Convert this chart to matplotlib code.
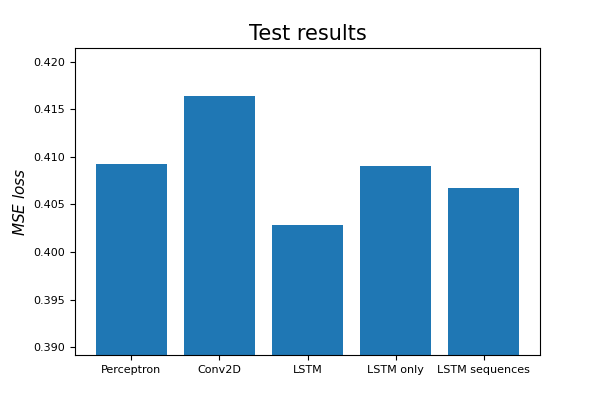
import matplotlib
matplotlib.use("Agg")
import matplotlib.pyplot as plt

models = ["Perceptron", "Conv2D", "LSTM", "LSTM only", "LSTM sequences"]
mse = [0.40926, 0.41642, 0.40284, 0.40905, 0.40674]

fig = plt.figure(figsize=(6, 4), dpi=100)
ax = fig.add_axes([0.125, 0.1125, 0.775, 0.7675])
ax.bar(models, mse, color="#1f77b4")
ax.set_ylim(0.38916, 0.42147)
ax.set_title("Test results", fontsize=15)
ax.set_ylabel("$MSE\\ loss$", fontsize=11)
ax.tick_params(labelsize=8)
fig.savefig("out.png", dpi=100)
